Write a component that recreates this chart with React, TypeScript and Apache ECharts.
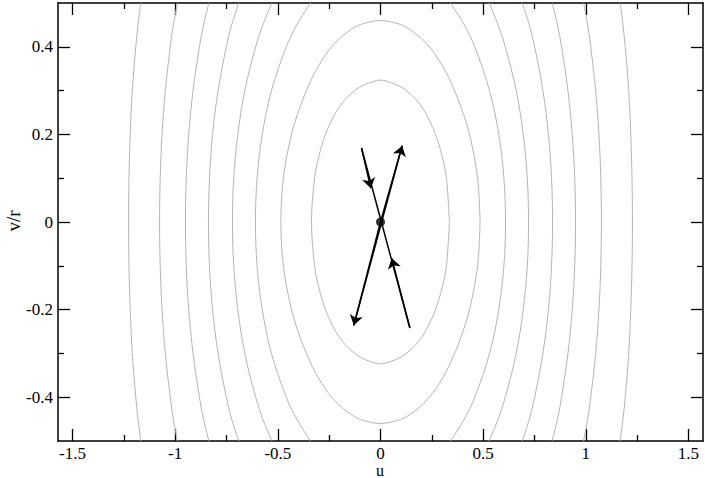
import React, { useEffect, useRef } from "react";
import * as echarts from "echarts";

// v levels at which the open level curves were read (upper half, mirrored)
const vLevels = [0, 0.1, 0.2, 0.3, 0.4, 0.45, 0.5];
// |u| of each open level curve at the v levels above
const openC3 = [0.609, 0.601, 0.576, 0.531, 0.459, 0.408, 0.341];
const openC4 = [0.721, 0.715, 0.695, 0.661, 0.608, 0.573, 0.529];
const openC5 = [0.838, 0.833, 0.818, 0.791, 0.751, 0.725, 0.69];
const openC6 = [0.95, 0.946, 0.934, 0.913, 0.882, 0.862, 0.836];
const openC7 = [1.076, 1.073, 1.064, 1.048, 1.024, 1.009, 0.989];
const openC8 = [1.227, 1.225, 1.219, 1.209, 1.192, 1.181, 1.167];

// closed orbits: quarter (u >= 0, v >= 0) from (u0, 0) to (0, vTop)
const loop1U = [0.336, 0.321, 0.3, 0.268, 0.218, 0.172, 0.126, 0.093, 0.053, 0];
const loop1V = [0, 0.1, 0.15, 0.2, 0.25, 0.28, 0.3, 0.31, 0.318, 0.324];
const loop2U = [0.485, 0.473, 0.436, 0.405, 0.366, 0.318, 0.252, 0.194, 0.138, 0.097, 0];
const loop2V = [0, 0.1, 0.196, 0.245, 0.294, 0.343, 0.392, 0.421, 0.441, 0.451, 0.46];

// tick positions and labels
const xMajorTicks = [-1.5, -1, -0.5, 0, 0.5, 1, 1.5];
const xMinorTicks = [-1.25, -0.75, -0.25, 0.25, 0.75, 1.25];
const yMajorTicks = [-0.4, -0.2, 0, 0.2, 0.4];
const yMinorTicks = [-0.3, -0.1, 0.1, 0.3];

// separatrix-like branches through the fixed point
const fixedPoint = [0, 0];
const stableEnds = [
  [-0.0925, 0.169],
  [0.143, -0.242],
];
const stableArrowTips = [
  [-0.047, 0.077],
  [0.055, -0.083],
];
const unstableEnds = [
  [0.1055, 0.174],
  [-0.13, -0.236],
];

const X_MIN = -Math.PI / 2;
const X_MAX = Math.PI / 2;
const Y_MIN = -0.5;
const Y_MAX = 0.5;

const FONT = "'Liberation Serif', 'Times New Roman', Times, serif";
const CONTOUR = "#b4b4b4";

function openCurve(us: number[], sign: number): number[][] {
  const pts: number[][] = [];
  for (let i = us.length - 1; i >= 1; i--) pts.push([sign * us[i], -vLevels[i]]);
  for (let i = 0; i < us.length; i++) pts.push([sign * us[i], vLevels[i]]);
  return pts;
}

function closedLoop(us: number[], vs: number[]): number[][] {
  const n = us.length - 1;
  const pts: number[][] = [];
  for (let i = 0; i <= n; i++) pts.push([us[i], vs[i]]);
  for (let i = n - 1; i >= 0; i--) pts.push([-us[i], vs[i]]);
  for (let i = 1; i <= n; i++) pts.push([-us[i], -vs[i]]);
  for (let i = n - 1; i >= 0; i--) pts.push([us[i], -vs[i]]);
  return pts;
}

export default function App() {
  const ref = useRef<HTMLDivElement>(null);

  useEffect(() => {
    if (!ref.current) return;
    const chart = echarts.init(ref.current, undefined, { renderer: "svg" });

    const contourSeries: any[] = [];
    const addCurve = (data: number[][]) =>
      contourSeries.push({
        type: "line",
        data,
        showSymbol: false,
        symbol: "none",
        smooth: 0.35,
        lineStyle: { color: CONTOUR, width: 1 },
        silent: true,
        z: 1,
      });
    addCurve(closedLoop(loop1U, loop1V));
    addCurve(closedLoop(loop2U, loop2V));
    [openC3, openC4, openC5, openC6, openC7, openC8].forEach((c) => {
      addCurve(openCurve(c, 1));
      addCurve(openCurve(c, -1));
    });

    const tickLine = { color: "#000", width: 1.3 };
    const axisLineStyle = { show: true, onZero: false, lineStyle: { color: "#000", width: 1.5 } };
    const noLine = { show: false, onZero: false };
    const labelStyle = {
      fontFamily: FONT,
      fontSize: 17,
      color: "#000",
    };

    const xBase = { type: "value", min: X_MIN, max: X_MAX, splitLine: { show: false } };
    const yBase = { type: "value", min: Y_MIN, max: Y_MAX, splitLine: { show: false } };

    chart.setOption({
      animation: false,
      backgroundColor: "#fff",
      grid: { left: 58, right: 2, top: 3, bottom: 37, containLabel: false, outerBoundsMode: "none" },
      xAxis: [
        {
          ...xBase,
          position: "bottom",
          axisLine: axisLineStyle,
          axisTick: { show: true, inside: true, length: 12, customValues: xMajorTicks, lineStyle: tickLine },
          axisLabel: {
            show: true,
            customValues: xMajorTicks,
            margin: 4,
            formatter: (v: number) => String(v),
            ...labelStyle,
          },
        },
        {
          ...xBase,
          position: "bottom",
          axisLine: noLine,
          axisTick: { show: true, inside: true, length: 6, customValues: xMinorTicks, lineStyle: tickLine },
          axisLabel: { show: false },
        },
        {
          ...xBase,
          position: "top",
          axisLine: axisLineStyle,
          axisTick: { show: true, inside: true, length: 12, customValues: xMajorTicks, lineStyle: tickLine },
          axisLabel: { show: false },
        },
        {
          ...xBase,
          position: "top",
          axisLine: noLine,
          axisTick: { show: true, inside: true, length: 6, customValues: xMinorTicks, lineStyle: tickLine },
          axisLabel: { show: false },
        },
      ],
      yAxis: [
        {
          ...yBase,
          position: "left",
          axisLine: axisLineStyle,
          axisTick: { show: true, inside: true, length: 12, customValues: yMajorTicks, lineStyle: tickLine },
          axisLabel: {
            show: true,
            customValues: yMajorTicks,
            margin: 5,
            formatter: (v: number) => String(v),
            ...labelStyle,
          },
        },
        {
          ...yBase,
          position: "left",
          axisLine: noLine,
          axisTick: { show: true, inside: true, length: 6, customValues: yMinorTicks, lineStyle: tickLine },
          axisLabel: { show: false },
        },
        {
          ...yBase,
          position: "right",
          axisLine: axisLineStyle,
          axisTick: { show: true, inside: true, length: 12, customValues: yMajorTicks, lineStyle: tickLine },
          axisLabel: { show: false },
        },
        {
          ...yBase,
          position: "right",
          axisLine: noLine,
          axisTick: { show: true, inside: true, length: 6, customValues: yMinorTicks, lineStyle: tickLine },
          axisLabel: { show: false },
        },
      ],
      graphic: [
        {
          type: "text",
          x: 380,
          y: 470,
          style: {
            text: "u",
            fontFamily: FONT,
            fontSize: 16,
            fill: "#000",
            align: "center",
            verticalAlign: "middle",
          },
        },
        {
          type: "text",
          x: 13,
          y: 221,
          rotation: Math.PI / 2,
          style: {
            text: "v/r",
            fontFamily: FONT,
            fontSize: 19,
            fill: "#000",
            align: "center",
            verticalAlign: "middle",
          },
        },
      ],
      series: [
        ...contourSeries,
        {
          type: "lines",
          coordinateSystem: "cartesian2d",
          silent: true,
          z: 5,
          symbol: ["none", "none"],
          lineStyle: { color: "#000", width: 1.5, opacity: 1, curveness: 0 },
          data: [
            { coords: [stableEnds[0], stableEnds[1]] },
            { coords: [unstableEnds[1], unstableEnds[0]] },
          ],
        },
        {
          type: "lines",
          coordinateSystem: "cartesian2d",
          silent: true,
          z: 6,
          symbol: ["none", "arrow"],
          symbolSize: 10,
          lineStyle: { color: "#000", width: 1.5, opacity: 1, curveness: 0 },
          data: [
            { coords: [stableEnds[0], stableArrowTips[0]] },
            { coords: [stableEnds[1], stableArrowTips[1]] },
            { coords: [fixedPoint, unstableEnds[0]] },
            { coords: [fixedPoint, unstableEnds[1]] },
          ],
        },
        {
          type: "scatter",
          data: [fixedPoint],
          symbol: "circle",
          symbolSize: 9,
          itemStyle: { color: "#000" },
          silent: true,
          z: 7,
        },
      ],
    });

    return () => chart.dispose();
  }, []);

  return (
    <div
      ref={ref}
      style={{ position: "fixed", left: 0, top: 0, width: 705, height: 478, background: "#fff" }}
    />
  );
}
